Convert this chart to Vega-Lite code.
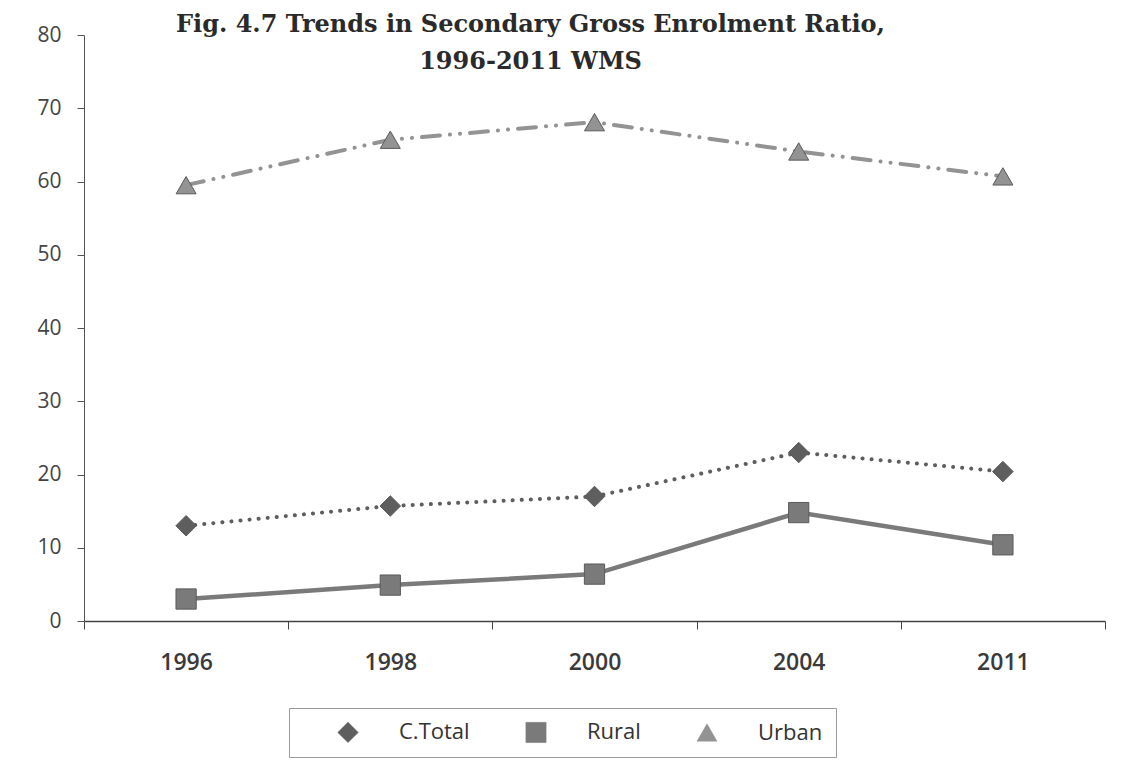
{
  "$schema": "https://vega.github.io/schema/vega-lite/v6.json",
  "width": 1021,
  "height": 586,
  "autosize": {"type": "none"},
  "padding": {"left": 84, "top": 35, "right": 29, "bottom": 144},
  "background": "white",
  "title": {
    "text": ["Fig. 4.7 Trends in Secondary  Gross Enrolment Ratio,", "1996-2011 WMS"],
    "font": "DejaVu Serif",
    "fontSize": 24,
    "fontWeight": "bold",
    "color": "#2a2a2a",
    "anchor": "middle",
    "frame": "group",
    "baseline": "top",
    "dx": -64,
    "dy": 54,
    "lineHeight": 37
  },
  "data": {
    "values": [
      {"year": "1996", "series": "C.Total", "value": 13.0},
      {"year": "1998", "series": "C.Total", "value": 15.7},
      {"year": "2000", "series": "C.Total", "value": 17.0},
      {"year": "2004", "series": "C.Total", "value": 23.0},
      {"year": "2011", "series": "C.Total", "value": 20.4},
      {"year": "1996", "series": "Rural", "value": 3.0},
      {"year": "1998", "series": "Rural", "value": 4.9},
      {"year": "2000", "series": "Rural", "value": 6.4},
      {"year": "2004", "series": "Rural", "value": 14.8},
      {"year": "2011", "series": "Rural", "value": 10.4},
      {"year": "1996", "series": "Urban", "value": 59.5},
      {"year": "1998", "series": "Urban", "value": 65.7},
      {"year": "2000", "series": "Urban", "value": 68.1},
      {"year": "2004", "series": "Urban", "value": 64.1},
      {"year": "2011", "series": "Urban", "value": 60.7}
    ]
  },
  "encoding": {
    "x": {
      "field": "year",
      "type": "ordinal",
      "scale": {"type": "band", "paddingInner": 0, "paddingOuter": 0},
      "axis": {
        "title": null,
        "labelAngle": 0,
        "labelFont": "Open Sans",
        "labelFontSize": 23,
        "labelFontWeight": 600,
        "labelColor": "#3a3a3a",
        "labelPadding": 22,
        "tickBand": "extent",
        "tickSize": 8,
        "tickColor": "#444",
        "domainColor": "#444",
        "domainWidth": 1.5
      }
    },
    "y": {
      "field": "value",
      "type": "quantitative",
      "scale": {"domain": [0, 80], "nice": false},
      "axis": {
        "title": null,
        "values": [0, 10, 20, 30, 40, 50, 60, 70, 80],
        "grid": false,
        "labelFont": "Open Sans",
        "labelFontSize": 21,
        "labelColor": "#444",
        "labelPadding": 16,
        "tickSize": 7,
        "tickColor": "#555",
        "domainColor": "#555"
      }
    },
    "color": {
      "field": "series",
      "type": "nominal",
      "scale": {"domain": ["C.Total", "Rural", "Urban"], "range": ["#5e5e5e", "#7a7a7a", "#939393"]},
      "legend": {
        "title": null,
        "orient": "none",
        "legendX": 205,
        "legendY": 673,
        "direction": "horizontal",
        "labelFont": "Open Sans",
        "labelFontSize": 22,
        "labelColor": "#333",
        "symbolStrokeColor": "#5a5a5a",
        "symbolStrokeWidth": 0.5,
        "strokeColor": "#9a9a9a",
        "padding": 13,
        "symbolOffset": 35,
        "columnPadding": 20,
        "labelOffset": 40
      }
    }
  },
  "layer": [
    {
      "transform": [{"filter": "datum.series === 'C.Total'"}],
      "mark": {"type": "line", "strokeWidth": 4, "strokeCap": "round", "strokeDash": [0.1, 9]}
    },
    {
      "transform": [{"filter": "datum.series === 'Rural'"}],
      "mark": {"type": "line", "strokeWidth": 4.5, "strokeCap": "round"}
    },
    {
      "transform": [{"filter": "datum.series === 'Urban'"}],
      "mark": {"type": "line", "strokeWidth": 4, "strokeCap": "round", "strokeDash": [18, 10, 0.1, 10, 0.1, 10]}
    },
    {
      "mark": {"type": "point", "filled": true, "opacity": 1, "stroke": "#5a5a5a", "strokeWidth": 1},
      "encoding": {
        "shape": {
          "field": "series",
          "type": "nominal",
          "scale": {"domain": ["C.Total", "Rural", "Urban"], "range": ["diamond", "square", "triangle-up"]}
        },
        "size": {
          "field": "series",
          "type": "nominal",
          "scale": {"domain": ["C.Total", "Rural", "Urban"], "range": [420, 400, 260]}
        }
      }
    }
  ],
  "config": {"view": {"stroke": null}}
}
